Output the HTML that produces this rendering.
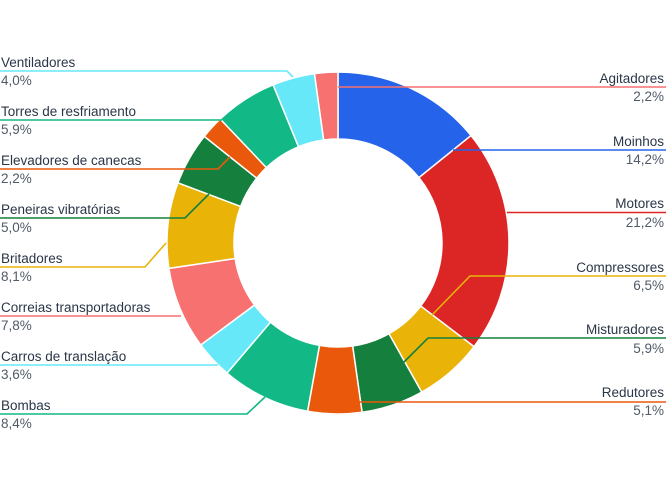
<!DOCTYPE html>
<html><head><meta charset="utf-8"><style>
html,body{margin:0;padding:0;background:#fff;width:666px;height:488px;overflow:hidden}
svg text{font-family:"Liberation Sans",sans-serif;font-size:13.5px}
.n{fill:#2a3647}.v{fill:#505a68}
</style></head><body>
<svg id="s" width="666" height="488" xmlns="http://www.w3.org/2000/svg">
<g id="sl"></g>
<g fill="none" stroke-width="1.6">
<polyline points="338,87 666,87" stroke="#f87171"/>
<polyline points="453,150 666,150" stroke="#2563eb"/>
<polyline points="507,212.5 666,212.5" stroke="#dc2626"/>
<polyline points="432,315 470,276 666,276" stroke="#eab308"/>
<polyline points="403,363 428,338 666,338" stroke="#15803d"/>
<polyline points="358,402 666,402" stroke="#ea580c"/>
<polyline points="0,71 287,71 293,77" stroke="#67e8f9"/>
<polyline points="0,120 222,120" stroke="#12b886"/>
<polyline points="0,169 218,169 230,157" stroke="#ea580c"/>
<polyline points="0,218 185,218 209,194" stroke="#15803d"/>
<polyline points="0,267 145,267 166,243" stroke="#eab308"/>
<polyline points="0,316 181,316" stroke="#f87171"/>
<polyline points="0,365 218,365" stroke="#67e8f9"/>
<polyline points="0,414 247,414 265,397" stroke="#12b886"/>
</g>
<g text-anchor="end">
<text x="664" y="83" class="n">Agitadores</text><text x="664" y="101" class="v">2,2%</text>
<text x="664" y="146" class="n">Moinhos</text><text x="664" y="164" class="v">14,2%</text>
<text x="664" y="208" class="n">Motores</text><text x="664" y="227" class="v">21,2%</text>
<text x="664" y="272" class="n">Compressores</text><text x="664" y="290" class="v">6,5%</text>
<text x="664" y="334" class="n">Misturadores</text><text x="664" y="353" class="v">5,9%</text>
<text x="664" y="397" class="n">Redutores</text><text x="664" y="415" class="v">5,1%</text>
</g>
<g>
<text x="1" y="67" class="n">Ventiladores</text><text x="1" y="85" class="v">4,0%</text>
<text x="1" y="116" class="n">Torres de resfriamento</text><text x="1" y="134" class="v">5,9%</text>
<text x="1" y="165" class="n">Elevadores de canecas</text><text x="1" y="183" class="v">2,2%</text>
<text x="1" y="214" class="n">Peneiras vibratórias</text><text x="1" y="232" class="v">5,0%</text>
<text x="1" y="263" class="n">Britadores</text><text x="1" y="281" class="v">8,1%</text>
<text x="1" y="312" class="n">Correias transportadoras</text><text x="1" y="330" class="v">7,8%</text>
<text x="1" y="361" class="n">Carros de translação</text><text x="1" y="379" class="v">3,6%</text>
<text x="1" y="410" class="n">Bombas</text><text x="1" y="428" class="v">8,4%</text>
</g>
</svg>
<script>
var d=[[14.2,"#2563eb"],[21.2,"#dc2626"],[6.5,"#eab308"],[5.9,"#15803d"],[5.1,"#ea580c"],[8.4,"#12b886"],[3.6,"#67e8f9"],[7.8,"#f87171"],[8.1,"#eab308"],[5.0,"#15803d"],[2.2,"#ea580c"],[5.9,"#12b886"],[4.0,"#67e8f9"],[2.2,"#f87171"]];
var tot=0;d.forEach(function(x){tot+=x[0]});
var cx=338,cy=243,R=171,r=104,a=-Math.PI/2,h="";
function p(rad,t){return (cx+rad*Math.cos(t)).toFixed(2)+","+(cy+rad*Math.sin(t)).toFixed(2)}
d.forEach(function(x){var b=a+x[0]/tot*2*Math.PI,l=(b-a)>Math.PI?1:0;
h+='<path d="M'+p(R,a)+' A'+R+','+R+' 0 '+l+' 1 '+p(R,b)+' L'+p(r,b)+' A'+r+','+r+' 0 '+l+' 0 '+p(r,a)+' Z" fill="'+x[1]+'" stroke="#fff" stroke-width="1.5"/>';a=b;});
document.getElementById("sl").innerHTML=h;
</script>
</body></html>
